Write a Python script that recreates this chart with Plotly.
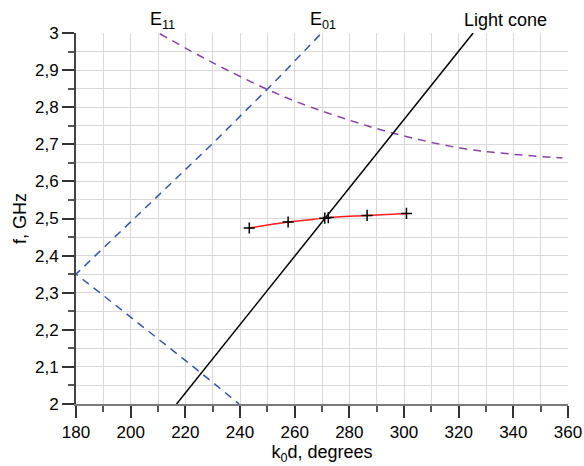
import plotly.graph_objects as go

# Light cone
cone_k = [216.8, 325.3]
cone_f = [2.0, 3.0]

# E01 harmonic (blue dashed)
e01_k = [269.2, 252.9, 230.2, 202.4, 180.0, 188.7, 206.0, 223.0, 239.7]
e01_f = [2.995, 2.870, 2.7035, 2.5075, 2.35, 2.30, 2.20, 2.10, 2.0]

# E11 harmonic (purple dashed)
e11_k = [210.7, 230.0, 249.7, 262.0, 280.0, 296.0, 320.4, 338.7, 358.0]
e11_f = [2.998, 2.92, 2.849, 2.811, 2.765, 2.730, 2.690, 2.674, 2.663]

# Measured / computed mode (red with + markers)
mode_k = [243.4, 257.6, 271.0, 272.3, 286.5, 300.9]
mode_f = [2.4744, 2.4906, 2.501, 2.5025, 2.5084, 2.5138]

x_tickvals = [180, 200, 220, 240, 260, 280, 300, 320, 340, 360]
x_ticktext = ["180", "200", "220", "240", "260", "280", "300", "320", "340", "360"]
y_tickvals = [2.0, 2.1, 2.2, 2.3, 2.4, 2.5, 2.6, 2.7, 2.8, 2.9, 3.0]
y_ticktext = ["2", "2,1", "2,2", "2,3", "2,4", "2,5", "2,6", "2,7", "2,8", "2,9", "3"]

FONT = "Liberation Sans, Arial, sans-serif"

fig = go.Figure()
fig.add_trace(go.Scatter(x=e01_k, y=e01_f, mode="lines",
                         line=dict(color="#3556b0", width=1.5, dash="8px,6px")))
fig.add_trace(go.Scatter(x=e11_k, y=e11_f, mode="lines", line_shape="spline",
                         line=dict(color="#8a42a8", width=1.5, dash="8px,6px")))
fig.add_trace(go.Scatter(x=cone_k, y=cone_f, mode="lines",
                         line=dict(color="black", width=1.5)))
fig.add_trace(go.Scatter(x=mode_k, y=mode_f, mode="lines", line_shape="spline",
                         line=dict(color="#ff1a1a", width=1.5)))
fig.add_trace(go.Scatter(x=mode_k, y=mode_f, mode="markers",
                         marker=dict(symbol="cross-thin", size=8, color="black",
                                     line=dict(color="black", width=1.5))))

annots = [
    dict(x=211.5, text="E<sub>11</sub>"),
    dict(x=270.5, text="E<sub>01</sub>"),
    dict(x=337.2, text="Light cone"),
]
for a in annots:
    fig.add_annotation(x=a["x"], y=1.035, xref="x", yref="paper", text=a["text"],
                       showarrow=False, xanchor="center", yanchor="middle",
                       font=dict(family=FONT, size=18, color="black"))

fig.update_layout(
    width=584, height=466,
    margin=dict(l=76, r=16, t=33, b=62, autoexpand=False),
    plot_bgcolor="white", paper_bgcolor="white",
    showlegend=False,
    separators=", ",
    font=dict(family=FONT, size=17, color="black"),
)
fig.update_xaxes(
    range=[180, 360], tickvals=x_tickvals, ticktext=x_ticktext, automargin=False,
    showline=True, linecolor="#7a7a7a", linewidth=2,
    ticks="outside", ticklen=12, tickwidth=1.5, tickcolor="#333333",
    showgrid=True, gridcolor="#d9d9d9", gridwidth=1.2,
    minor=dict(dtick=10, ticks="outside", ticklen=6, tickwidth=1.5, tickcolor="#555555",
               showgrid=True, gridcolor="#d9d9d9", gridwidth=1.2),
    zeroline=False, mirror=False,
    title=dict(text="k<sub>0</sub>d, degrees", font=dict(size=18), standoff=4),
    tickfont=dict(size=17),
)
fig.update_yaxes(
    range=[2, 3], tickvals=y_tickvals, ticktext=y_ticktext, automargin=False,
    showline=True, linecolor="#444444", linewidth=2,
    ticks="outside", ticklen=12, tickwidth=1.5, tickcolor="#333333",
    showgrid=True, gridcolor="#d9d9d9", gridwidth=1.2,
    minor=dict(dtick=0.05, ticks="outside", ticklen=6, tickwidth=1.5, tickcolor="#555555",
               showgrid=True, gridcolor="#d9d9d9", gridwidth=1.2),
    zeroline=False,
    title=dict(text="f, GHz", font=dict(size=18), standoff=4),
    tickfont=dict(size=17),
)

fig.write_html("out.html", config={"displayModeBar": False},
               post_script="document.body.style.margin='0';document.body.style.padding='0';")
